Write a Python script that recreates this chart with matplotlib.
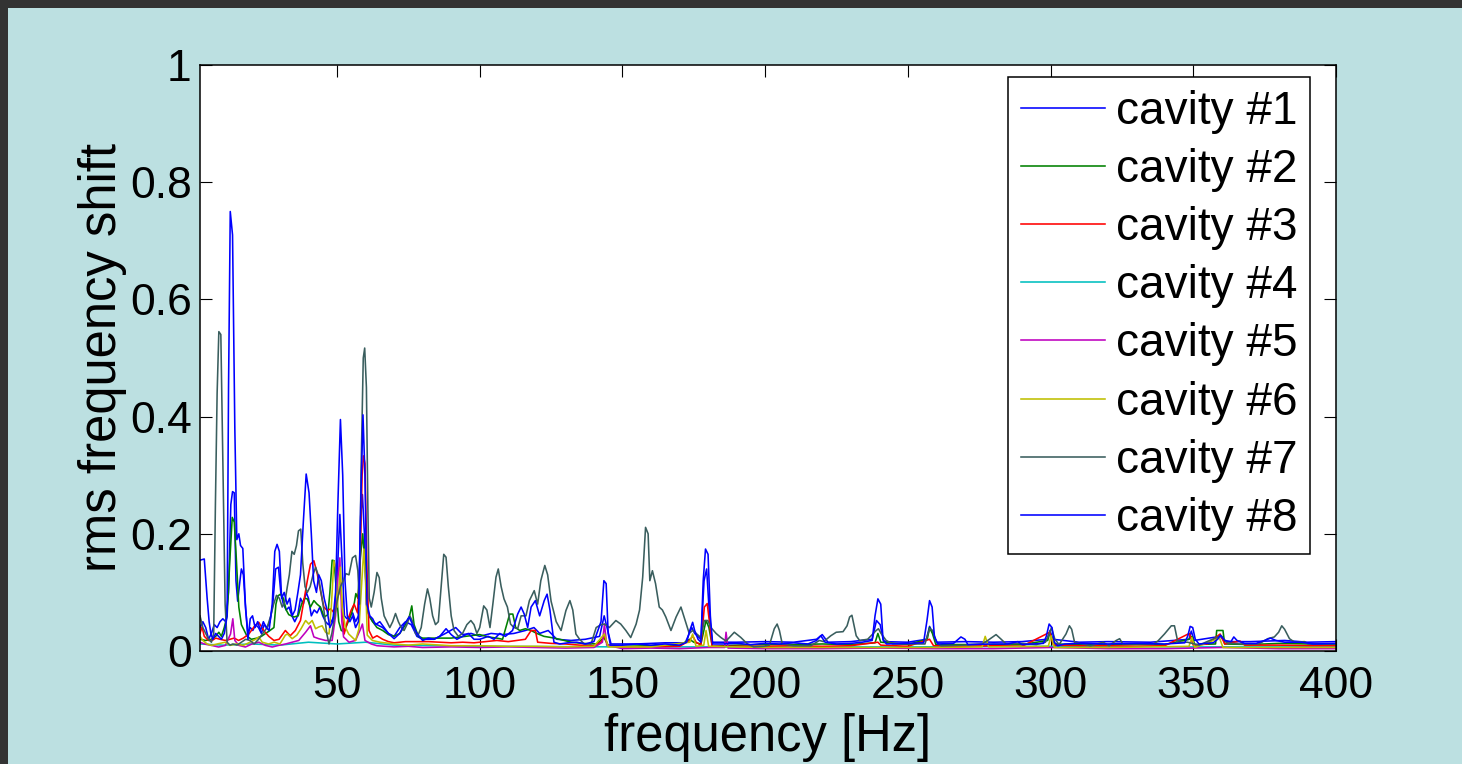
import numpy as np
import matplotlib
matplotlib.use("Agg")
import matplotlib.pyplot as plt
from matplotlib.patches import Rectangle

# rms frequency shift per cavity as (frequency [Hz], value) points
cav1 = [(2, .04), (3, .05), (4, .04), (5, .02), (6, .03), (7, .045), (8, .04), (9, .05), (10, .055), (11, .05),
        (12, .10), (12.8, .25), (13.4, .272), (14.0, .27), (14.6, .12), (15.2, .085), (16.0, .12), (16.5, .14),
        (17.2, .13), (18.0, .07), (18.8, .03), (19.6, .04), (20.5, .035), (21.5, .045), (22.5, .04), (23.5, .03),
        (24.5, .045), (25.5, .04), (26.5, .05), (27.5, .08), (28.5, .14), (29.5, .143), (30.3, .10), (31.2, .08),
        (32.2, .07), (33.2, .075), (34.2, .06), (35.2, .05), (36.2, .06), (37.2, .09), (38.2, .08), (39.2, .10),
        (40.0, .09), (41.0, .06), (42.0, .07), (43.0, .065), (44.0, .075), (45.0, .06), (46.0, .05), (47.0, .045),
        (48.0, .05), (49.0, .06), (50.0, .12), (51.0, .233), (51.8, .15), (52.6, .06), (53.5, .055), (54.5, .06),
        (55.5, .065), (56.5, .05), (57.5, .06), (58.3, .23), (58.9, .267), (59.6, .20), (60.3, .08), (61.2, .06),
        (62.5, .05), (64, .045), (66, .04), (68, .03), (70, .025), (72, .04), (74, .05), (76, .045), (78, .025),
        (80, .02), (84, .02), (88, .03), (91.6, .04), (94, .028), (97, .03), (100, .025), (104, .03), (108, .028),
        (112, .03), (116, .035), (119, .04), (121, .03), (124, .035), (127, .02), (132, .018), (137, .02),
        (142, .025), (143.6, .06), (144.6, .04), (146, .012), (155, .012), (165, .014), (172, .014), (174.3, .04),
        (175.3, .03), (177.5, .02), (178.6, .12), (179.5, .14), (180.5, .06), (181.5, .015), (190, .015),
        (200, .016), (210, .015), (218, .02), (220, .028), (222, .015), (230, .016), (237.5, .02), (239, .052),
        (240.3, .045), (241.5, .016), (250, .015), (256.5, .02), (257.6, .042), (258.8, .03), (260, .015),
        (270, .016), (280, .015), (290, .016), (298.8, .02), (299.8, .035), (300.8, .02), (310, .015), (320, .016),
        (335, .015), (348.5, .02), (349.3, .034), (350.3, .018), (359.5, .025), (361, .016), (370, .016),
        (382, .018), (390, .015), (400, .016)]

cav2 = [(2, .02), (4, .018), (6, .02), (7.5, .025), (8.6, .032), (9.5, .025), (10.5, .04), (11.5, .06), (12.4, .15),
        (13.3, .228), (14.0, .22), (14.7, .16), (15.6, .075), (16.5, .045), (17.5, .035), (18.5, .025), (20, .02),
        (22, .022), (23.5, .025), (25, .03), (26.5, .035), (27.9, .04), (28.6, .08), (29.3, .094), (30.2, .097),
        (31.2, .09), (32.2, .07), (33.1, .062), (34.9, .058), (36.4, .06), (37.6, .08), (38.6, .09), (39.6, .089),
        (40.7, .075), (41.9, .086), (43.0, .08), (44.2, .075), (45.5, .058), (46.8, .062), (47.5, .10), (48.3, .155),
        (49.0, .154), (49.8, .10), (50.6, .05), (51.5, .035), (52.5, .033), (53.5, .045), (54.8, .06), (56.0, .08),
        (56.6, .098), (57.3, .09), (58.2, .16), (59.0, .20), (59.8, .15), (60.6, .07), (61.3, .06), (62.5, .05),
        (64, .04), (66, .035), (68, .028), (70, .025), (72, .03), (74, .045), (75.4, .06), (76.2, .077), (77, .045),
        (78.5, .025), (80, .022), (85, .022), (90, .022), (95, .025), (100, .028), (103, .024), (106, .022),
        (108, .02), (110.5, .063), (111.6, .063), (112.6, .04), (114, .035), (116, .038), (118, .035), (120, .03),
        (122.5, .025), (125, .023), (128, .02), (132, .015), (136, .013), (141, .012), (143.5, .023), (145, .01),
        (150, .008), (160, .009), (170, .009), (173.5, .02), (175, .015), (177.5, .012), (179.3, .052),
        (180.3, .04), (181.5, .008), (190, .01), (200, .011), (210, .011), (220, .012), (230, .011), (238.5, .014),
        (239.5, .03), (240.5, .015), (250, .011), (256.8, .02), (257.6, .04), (258.6, .03), (259.8, .011),
        (270, .011), (280, .011), (290, .011), (299, .018), (299.8, .032), (301, .012), (310, .011), (320, .011),
        (340, .011), (348.5, .02), (349.5, .025), (350.5, .011), (357.8, .012), (358.2, .035), (360.4, .035),
        (361, .012), (370, .011), (380, .013), (390, .012), (400, .011)]

cav3 = [(2, .03), (2.7, .041), (3.5, .025), (5, .018), (6.3, .018), (7.5, .022), (9, .02), (10.9, .018), (12.5, .02),
        (14, .022), (15.5, .018), (17.2, .022), (19.1, .029), (20.9, .041), (22.6, .049), (24.3, .035), (26.1, .025),
        (27.9, .018), (29.7, .02), (31.9, .035), (33.6, .026), (35.4, .035), (37.2, .052), (38.4, .086), (39.6, .12),
        (40.7, .148), (41.9, .154), (43.1, .131), (44.2, .103), (45.4, .075), (46.6, .069), (47.8, .072), (49, .065),
        (50.2, .092), (51.4, .108), (52.0, .06), (52.5, .029), (53.6, .05), (54.9, .069), (56.0, .08), (57.2, .065),
        (58.1, .15), (58.8, .30), (59.3, .333), (59.8, .32), (60.5, .14), (61.2, .035), (62.5, .022), (64, .026),
        (66, .02), (68, .016), (70, .014), (74, .016), (78, .016), (82, .016), (86, .015), (90, .014), (94, .015),
        (98, .014), (102, .016), (106, .018), (110, .016), (113, .018), (116, .02), (118, .035), (119.5, .035),
        (120.3, .015), (125, .013), (130, .012), (135, .01), (140, .009), (142.5, .015), (143.7, .026),
        (144.8, .01), (150, .007), (160, .007), (170, .008), (173.6, .018), (174.6, .026), (175.8, .015),
        (177.5, .01), (178.7, .075), (179.7, .081), (180.6, .045), (181.4, .008), (190, .008), (200, .008),
        (210, .009), (220, .008), (230, .009), (239.5, .015), (240.5, .01), (250, .008), (257.6, .02), (259, .009),
        (270, .008), (280, .009), (290, .008), (299.7, .032), (301, .01), (310, .009), (320, .009), (330, .008),
        (340, .009), (348.6, .03), (350, .01), (355, .012), (359.4, .029), (361, .012), (366.4, .017), (368, .01),
        (380, .01), (390, .009), (400, .009)]

cav4 = [(2, .012), (10, .01), (20, .012), (30, .01), (40, .015), (50, .012), (60, .015), (70, .01), (100, .008),
        (150, .007), (200, .007), (250, .007), (300, .008), (350, .007), (400, .007)]

cav5 = [(2, .015), (3.5, .012), (6, .0096), (8.5, .0068), (10.9, .0096), (12.7, .029), (13.5, .055), (14.2, .018),
        (15.6, .0096), (17.9, .0068), (20.2, .012), (22.6, .015), (24.9, .0096), (27.3, .0068), (29.6, .0096),
        (32.0, .012), (34.3, .015), (36.6, .018), (39.0, .032), (40.7, .043), (41.9, .024), (43.6, .021),
        (46.0, .018), (48.3, .018), (49.5, .06), (50.4, .13), (51.0, .159), (51.7, .05), (52.3, .024), (54.2, .015),
        (56.5, .018), (58.3, .038), (58.9, .046), (59.8, .018), (62, .012), (64, .009), (70, .007), (75, .008),
        (80, .006), (90, .007), (100, .006), (110, .007), (120, .006), (130, .005), (140, .006), (143, .015),
        (143.7, .046), (144.5, .01), (150, .004), (160, .005), (170, .004), (180, .006), (185.8, .006),
        (186.3, .032), (187, .005), (200, .004), (220, .004), (240, .005), (260, .004), (280, .004), (300, .006),
        (320, .004), (340, .004), (360, .006), (380, .004), (400, .004)]

cav6 = [(2, .025), (3, .018), (4.5, .012), (6, .0096), (8, .012), (10.9, .015), (12.5, .0096), (14.8, .012),
        (17.2, .0096), (19.5, .015), (21.5, .02), (22.6, .024), (23.8, .015), (26, .012), (28, .015), (30, .012),
        (31.9, .027), (32.6, .029), (34.3, .021), (35.9, .027), (37.4, .038), (39.0, .052), (40.1, .046),
        (41.3, .052), (42.5, .038), (43.6, .041), (44.8, .043), (46, .032), (47.2, .029), (48.0, .075),
        (48.9, .154), (49.5, .143), (50.1, .075), (50.6, .103), (51.2, .143), (51.8, .075), (52.9, .041),
        (54.1, .029), (56.5, .018), (57.7, .038), (58.7, .12), (59.4, .174), (60.0, .12), (60.6, .027),
        (62.4, .018), (65, .015), (70, .012), (75, .01), (80, .012), (90, .009), (100, .009), (110, .008),
        (120, .008), (130, .007), (140, .008), (143.7, .029), (145, .007), (160, .007), (173.6, .015),
        (174.6, .029), (175.8, .008), (178.5, .01), (179.3, .035), (180.2, .008), (200, .006), (230, .006),
        (260, .006), (276, .007), (277.1, .025), (278.3, .007), (299.2, .008), (300.2, .026), (301.3, .006),
        (320, .006), (348.5, .008), (349.5, .023), (350.5, .006), (359.2, .022), (360.4, .006), (380, .006),
        (400, .006)]

cav7 = [(2, .06), (3, .04), (4, .03), (5, .02), (6, .015), (6.8, .03), (7.4, .25), (8.0, .44), (8.6, .545),
        (9.3, .54), (10.0, .33), (10.8, .08), (11.5, .015), (12.5, .01), (13.5, .012), (15, .01), (16.5, .015),
        (18, .02), (19.5, .018), (21, .012), (22.5, .02), (24, .03), (25.5, .04), (26.8, .06), (27.8, .08),
        (28.8, .095), (29.8, .09), (30.8, .075), (31.8, .085), (32.6, .11), (33.3, .13), (34.2, .17), (35.0, .165),
        (35.8, .18), (36.5, .205), (37.3, .208), (38.0, .15), (38.8, .11), (39.6, .10), (40.6, .11), (41.6, .13),
        (42.5, .143), (43.4, .13), (44.4, .10), (45.4, .07), (46.4, .03), (47.2, .012), (48.2, .03), (49.2, .06),
        (50.2, .09), (51.2, .11), (52.2, .12), (53.1, .132), (54.2, .13), (55.4, .159), (56.5, .163), (57.3, .137),
        (57.9, .08), (58.4, .30), (59.2, .50), (59.7, .517), (60.3, .45), (60.8, .25), (61.3, .09), (62.0, .075),
        (63.0, .10), (64.0, .134), (64.8, .125), (65.5, .09), (66.5, .06), (67.5, .05), (68.5, .04), (69.5, .05),
        (70.5, .064), (71.5, .05), (72.5, .04), (73.5, .035), (74.5, .045), (75.5, .06), (76.5, .05), (77.5, .03),
        (78.5, .028), (79.5, .04), (80.7, .08), (81.7, .106), (82.5, .09), (83.5, .06), (84.5, .045), (85.5, .05),
        (86.5, .11), (87.4, .165), (88.2, .16), (89.0, .11), (90.0, .06), (91.0, .035), (92.5, .025), (94, .03),
        (95.5, .045), (96.9, .052), (98.0, .045), (99.0, .03), (100.0, .04), (101.4, .077), (102.5, .07),
        (103.6, .04), (104.6, .08), (105.7, .126), (106.5, .14), (107.5, .11), (108.5, .089), (109.7, .075),
        (110.8, .046), (112, .04), (113.3, .038), (114.5, .06), (116.2, .06), (117.4, .086), (119.1, .103),
        (120.3, .08), (121.4, .12), (122.8, .146), (123.8, .13), (125, .085), (126.8, .05), (128.5, .035),
        (130.2, .069), (131.6, .086), (132.6, .07), (133.7, .029), (135, .02), (136.6, .012), (139, .012),
        (140.8, .04), (142.5, .045), (143.7, .046), (145.4, .04), (147.7, .052), (149.4, .046), (151.2, .035),
        (152.9, .023), (154.8, .046), (156.0, .07), (157.1, .126), (158.1, .211), (159.0, .20), (159.6, .12),
        (160.5, .137), (161.6, .115), (162.9, .075), (164, .07), (165.2, .058), (167, .035), (168.8, .058),
        (170.5, .075), (171.6, .058), (173.4, .03), (174.6, .035), (175.8, .03), (177.5, .023), (178.7, .052),
        (179.9, .052), (181, .04), (182.8, .03), (184.5, .023), (186.3, .017), (189.2, .032), (191.5, .023),
        (193.8, .012), (196, .007), (199.5, .008), (201.5, .01), (203.2, .038), (204.2, .046), (205, .035),
        (206, .012), (210, .009), (216, .009), (219, .018), (220.5, .016), (223, .026), (224.9, .032),
        (227.3, .033), (228.7, .043), (229.6, .058), (230.4, .061), (231.1, .045), (231.9, .026), (233.1, .018),
        (235.9, .02), (238.9, .035), (239.7, .038), (240.6, .03), (242.4, .018), (244.7, .012), (250, .012),
        (256, .012), (257.6, .038), (258.8, .035), (259.9, .015), (261.6, .009), (270, .01), (276, .012),
        (278, .018), (280.9, .028), (282.7, .02), (284.4, .012), (290, .013), (295, .011), (298.2, .015),
        (299.6, .03), (300.3, .04), (301.5, .02), (303, .011), (305.4, .029), (306.6, .043), (307.4, .037),
        (308.4, .015), (314, .009), (318.4, .015), (320.5, .009), (323, .018), (324.2, .021), (325.3, .012),
        (336, .012), (337.6, .017), (339.9, .029), (342.3, .043), (343.4, .043), (344.6, .015), (348, .015),
        (352, .01), (358.6, .024), (359.8, .026), (361.8, .014), (366, .012), (373, .012), (376.1, .021),
        (378.4, .024), (379.9, .032), (381, .043), (382, .037), (383.7, .021), (385.5, .015), (389, .016),
        (390.2, .012), (400, .012)]

cav8 = [(2.0, .155), (3.5, .157), (4.5, .09), (5.2, .05), (5.8, .03), (6.5, .02), (7.5, .03), (8.5, .025), (9.5, .02),
        (10.5, .03), (11.5, .06), (12.0, .45), (12.6, .75), (13.4, .71), (14.2, .38), (14.9, .19), (15.6, .20),
        (16.2, .18), (17.0, .175), (17.9, .08), (18.8, .02), (19.6, .055), (20.4, .06), (21.3, .04), (22.2, .05),
        (23.2, .035), (24.2, .05), (25.2, .04), (26.2, .035), (27.3, .08), (28.2, .17), (29.0, .182), (29.8, .17),
        (30.6, .09), (31.5, .10), (32.5, .08), (33.4, .09), (34.3, .06), (35.3, .07), (36.3, .10), (37.2, .13),
        (38.2, .22), (39.2, .302), (40.2, .27), (41.0, .20), (41.8, .12), (42.8, .10), (43.6, .13), (44.5, .12),
        (45.5, .09), (46.5, .07), (47.5, .04), (48.5, .05), (49.5, .10), (50.3, .25), (51.2, .395), (52.0, .30),
        (52.8, .12), (53.6, .06), (54.5, .05), (55.5, .06), (56.5, .04), (57.5, .05), (58.3, .25), (59.1, .403),
        (59.8, .30), (60.5, .08), (61.5, .06), (62.5, .055), (63.5, .045), (65.0, .05), (66.5, .04), (68.0, .03),
        (70.0, .021), (72.0, .03), (73.5, .045), (75.3, .058), (76.5, .045), (78.0, .03), (80.0, .018), (82.0, .022),
        (84.0, .02), (86.0, .025), (88.2, .038), (90.0, .028), (92.0, .02), (94.0, .025), (96.0, .03), (98.0, .02),
        (100, .02), (103, .025), (105, .02), (107, .03), (109, .025), (111.5, .035), (113.3, .063), (114.5, .075),
        (115.6, .063), (116.8, .04), (118.0, .075), (119.5, .086), (121.0, .06), (122.6, .086), (123.6, .097),
        (124.6, .07), (126, .015), (128, .012), (131, .014), (134, .015), (137, .012), (140, .016), (142.5, .05),
        (143.5, .12), (144.3, .115), (145.0, .03), (145.8, .01), (150, .01), (155, .012), (160, .01), (165, .012),
        (170, .01), (172.5, .015), (173.6, .035), (174.6, .049), (175.3, .035), (176.5, .02), (177.5, .015),
        (178.3, .12), (179.1, .174), (180.0, .165), (180.8, .06), (181.6, .012), (185, .012), (190, .013),
        (195, .011), (200, .013), (205, .012), (210, .014), (215, .012), (218, .018), (219.5, .026), (221, .015),
        (225, .012), (230, .013), (234, .015), (237.5, .018), (238.5, .06), (239.5, .089), (240.5, .08),
        (241.3, .02), (242.5, .012), (250, .013), (255.5, .014), (256.7, .052), (257.6, .086), (258.5, .075),
        (259.3, .025), (260.5, .012), (266, .013), (268.6, .024), (270, .02), (271, .011), (280, .012), (285, .012),
        (288.5, .016), (290, .011), (297.5, .013), (298.5, .025), (299.5, .046), (300.5, .04), (301.3, .015),
        (302.5, .009), (305, .012), (310, .013), (320, .012), (330, .013), (340, .012), (347, .014), (348.1, .026),
        (348.9, .042), (349.8, .04), (350.7, .02), (352, .012), (357, .014), (358.5, .02), (359.5, .027),
        (361, .018), (363.2, .016), (364.2, .024), (365.3, .018), (368, .013), (372, .013), (375, .018),
        (377, .022), (379, .018), (382, .015), (388, .015), (392, .012), (400, .013)]

labels = ["cavity #1", "cavity #2", "cavity #3", "cavity #4",
          "cavity #5", "cavity #6", "cavity #7", "cavity #8"]
colors = ["#0000ff", "#008000", "#ff0000", "#00bfbf",
          "#bf00bf", "#bfbf00", "#3a5e5e", "#0000ff"]
series = [cav1, cav2, cav3, cav4, cav5, cav6, cav7, cav8]

plt.rcParams['font.family'] = ['Liberation Sans', 'DejaVu Sans']

fig = plt.figure(figsize=(14.62, 7.64), dpi=100, facecolor="#333333")
# light panel inside the dark frame
fig.add_artist(Rectangle((8 / 1462, 0), 1, 1 - 8 / 764, transform=fig.transFigure,
                         facecolor="#bce0e1", edgecolor="none", zorder=-10))

ax = fig.add_axes([200 / 1462, 113 / 764, 1136 / 1462, 586 / 764])
ax.set_facecolor("white")

# draw order: cavity 4 first (hidden below), then the rest
order = [3, 0, 1, 2, 4, 5, 6, 7]
handles = [None] * 8
for i in order:
    f, v = np.array(series[i]).T
    ln, = ax.plot(f, v, color=colors[i], linewidth=1.15, label=labels[i])
    handles[i] = ln

ax.set_xlim(2, 400)
ax.set_ylim(0, 1)
ax.set_xticks([50, 100, 150, 200, 250, 300, 350, 400])
ax.set_yticks([0, 0.2, 0.4, 0.6, 0.8, 1.0])
ax.set_yticklabels(["0", "0.2", "0.4", "0.6", "0.8", "1"])
ax.tick_params(direction="in", length=8.5, width=0.8, top=True, right=True,
               labelsize=32)
ax.tick_params(axis="x", pad=11)
ax.tick_params(axis="y", pad=6)
for s in ax.spines.values():
    s.set_linewidth(1.1)

ax.set_xlabel("frequency [Hz]", fontsize=36.5, labelpad=4)
ax.set_ylabel("rms frequency shift", fontsize=36.5, labelpad=2)

leg = ax.legend(handles=handles, labels=labels, loc="upper right",
                bbox_to_anchor=(0.977, 0.98), borderaxespad=0, fontsize=33,
                handlelength=1.85, handletextpad=0.22, labelspacing=0.31,
                borderpad=0.28, fancybox=False, framealpha=1)
leg.get_frame().set_edgecolor("black")
leg.get_frame().set_linewidth(1.1)

fig.savefig("out.png", dpi=100, facecolor=fig.get_facecolor())
